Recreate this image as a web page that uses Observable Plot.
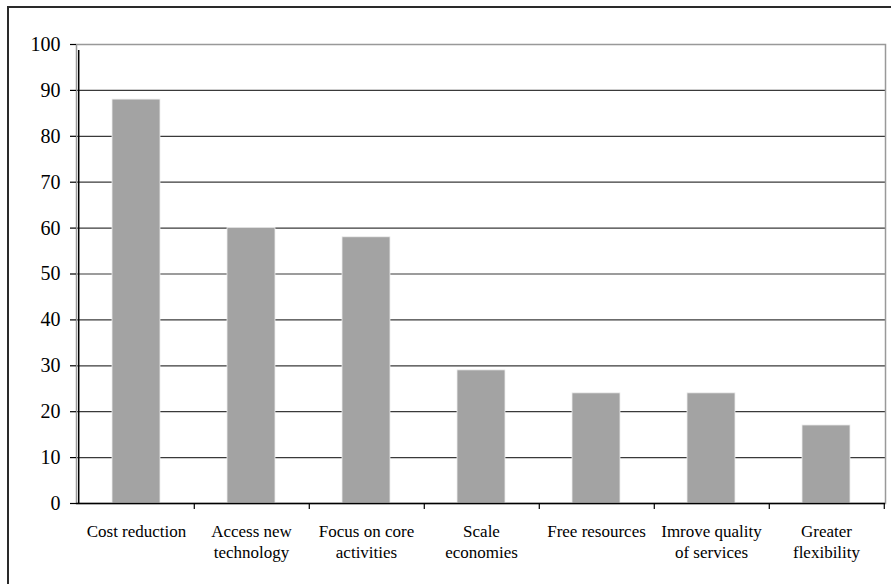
<!DOCTYPE html>
<html>
<head>
<meta charset="utf-8">
<script src="https://cdn.jsdelivr.net/npm/d3@7"></script>
<script src="https://cdn.jsdelivr.net/npm/@observablehq/plot@0.6"></script>
<style>
  html, body { margin: 0; padding: 0; background: white; }
  #wrap { position: relative; width: 891px; height: 584px; overflow: hidden; }
  #wrap svg, #wrap svg text { font-family: "Liberation Serif", "DejaVu Serif", serif !important; }
  #wrap svg { background: transparent !important; }
  #outer { position: absolute; left: 7px; top: 6px; width: 1000px; height: 1000px;
           border-left: 2px solid #2a2a2a; border-top: 2px solid #2a2a2a; pointer-events: none; }
</style>
</head>
<body>
<div id="wrap"><div id="outer"></div></div>
<script>
const categories = ["Cost reduction", "Access new technology", "Focus on core activities",
  "Scale economies", "Free resources", "Imrove quality of services", "Greater flexibility"];
const values = [88, 60, 58, 29, 24, 24, 17];
const tickLabels = ["Cost reduction", "Access new\ntechnology", "Focus on core\nactivities",
  "Scale\neconomies", "Free resources", "Imrove quality\nof services", "Greater\nflexibility"];
const yTicks = [0, 10, 20, 30, 40, 50, 60, 70, 80, 90, 100];
const gridValues = [10, 20, 30, 40, 50, 60, 70, 80, 90];

const data = categories.map((c, i) => ({category: c, value: values[i]}));

const W = 891, H = 584, ML = 76, MR = 6, MT = 44, MB = 81;
const step = (W - ML - MR) / categories.length;
const pad = 0.585;
const serif = "Liberation Serif";

const chart = Plot.plot({
  width: W, height: H,
  marginLeft: ML, marginRight: MR, marginTop: MT, marginBottom: MB,
  style: {"font-family": serif, "background": "transparent", "color": "#000"},
  x: {domain: categories, paddingInner: pad, paddingOuter: pad / 2, axis: null},
  y: {domain: [0, 100], axis: null},
  marks: [
    Plot.ruleY(gridValues, {stroke: "#3a3a3a", strokeWidth: 1.2}),
    Plot.frame({stroke: "#999", strokeWidth: 1.5}),
    Plot.barY(data, {x: "category", y: "value", fill: "#a3a3a3", stroke: "#eeeeee", strokeWidth: 0.8}),
    Plot.ruleY([0], {stroke: "#000", strokeWidth: 1.5}),
    Plot.ruleX([categories[0]], {x: d => d, dx: -step / 2, y1: 0, y2: 100, insetBottom: -6, stroke: "#000", strokeWidth: 1.5}),
    Plot.ruleX(categories, {x: d => d, dx: step / 2, y1: 0, y2: 0, insetBottom: -6, stroke: "#000", strokeWidth: 1.2}),
    Plot.axisY({ticks: yTicks, tickSize: 6, tickPadding: 10, fontSize: 20, fontFamily: serif, stroke: "#000", strokeWidth: 1.2, label: null}),
    Plot.axisX({tickSize: 0, tickPadding: 18, fontSize: 17, fontFamily: serif, lineHeight: 1.25, label: null,
      tickFormat: d => tickLabels[categories.indexOf(d)]})
  ]
});
document.getElementById("wrap").prepend(chart);
</script>
</body>
</html>
